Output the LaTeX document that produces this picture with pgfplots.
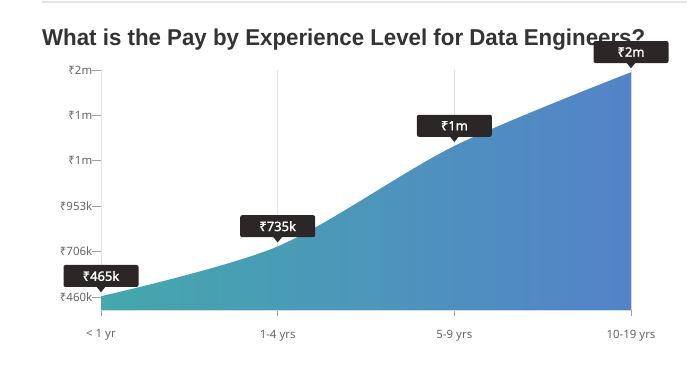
\documentclass[border=0pt]{standalone}
\usepackage{pgfplots}
\pgfplotsset{compat=1.18}
\usepackage{fontspec}
\setmainfont{Noto Sans}
\newfontfamily\titlefont{Liberation Sans}
\newfontfamily\boxfont{Noto Sans}[FakeBold=1.6]
\usepackage{graphicx}
\usetikzlibrary{calc}
\definecolor{areaL}{HTML}{44A8AC}
\definecolor{areaR}{HTML}{5483C9}
\definecolor{boxc}{HTML}{2B2727}
\definecolor{titlec}{HTML}{333333}
\definecolor{tickc}{HTML}{666666}
\definecolor{gridc}{HTML}{E3E3E3}
\definecolor{tickm}{HTML}{A0A0A0}
\begin{document}
\begin{tikzpicture}[x=1bp,y=1bp]
\useasboundingbox (0,0) rectangle (687,-368);
\draw[gridc, line width=2bp] (42,-2) -- (687,-2);
\node[anchor=base west, inner sep=0, text=titlec] at (42,-45) {\resizebox{603bp}{\height}{\titlefont\fontsize{23}{26}\selectfont\bfseries What is the Pay by Experience Level for Data Engineers?}};
\begin{axis}[
  at={(101bp,-310bp)}, anchor=south west,
  scale only axis, width=530bp, height=240bp,
  xmin=0, xmax=3, ymin=390, ymax=1692,
  xtick={0,1,2,3},
  xticklabels={< 1 yr, 1-4 yrs, 5-9 yrs, 10-19 yrs},
  ytick={460,706.4,952.8,1199.2,1445.6,1692},
  yticklabels={₹460k,₹706k,₹953k,₹1m,₹1m,₹2m},
  axis x line*=bottom, axis y line*=left,
  axis line style={draw=gridc, line width=1bp},
  xmajorgrids, grid style={draw=gridc, line width=0.8bp},
  tick align=outside,
  x tick style={draw=tickm, line width=1bp},
  y tick style={draw=tickm, line width=1bp},
  xtick style={/pgfplots/major tick length=6bp},
  ytick style={/pgfplots/major tick length=9bp},
  ticklabel style={font=\fontsize{11.5}{13}\selectfont, text=tickc},
  xticklabel style={yshift=-12bp},
  yticklabel style={xshift=-1bp},
  clip=false,
]
\addplot[draw=none, left color=areaL, right color=areaR, smooth, tension=0.5]
  coordinates {(0,465) (1,735) (2,1280) (3,1680)} \closedcycle;
\coordinate (p0) at (axis cs:0,465);
\coordinate (p1) at (axis cs:1,735);
\coordinate (p2) at (axis cs:2,1280);
\coordinate (p3) at (axis cs:3,1680);
\end{axis}
\foreach \p/\t in {p0/₹465k, p1/₹735k, p2/₹1m, p3/₹2m}{
  \fill[boxc] ($(\p)+(-4.5,9.5)$) -- ($(\p)+(4.5,9.5)$) -- ($(\p)+(0,4)$) -- cycle;
  \node[fill=boxc, text=white, rounded corners=2bp, minimum width=75bp, minimum height=22bp, inner sep=0, anchor=south, font=\boxfont\fontsize{13}{15}\selectfont] at ($(\p)+(0,9)$) {\t};
}
\end{tikzpicture}
\end{document}
